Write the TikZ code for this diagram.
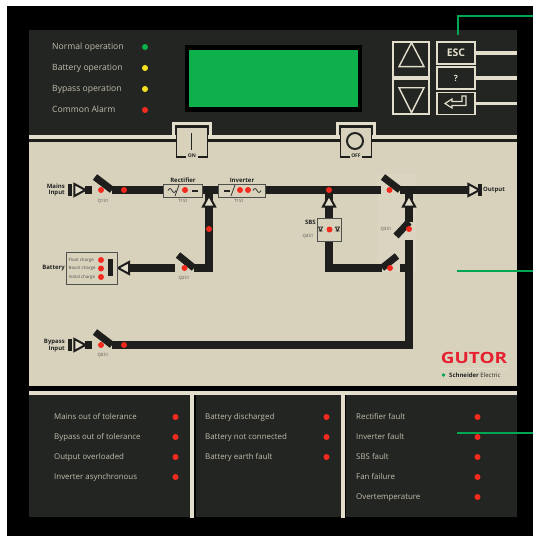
\documentclass[tikz,border=0pt]{standalone}
\usepackage{fontspec}
\setmainfont{Open Sans}
\usetikzlibrary{shapes.geometric, arrows.meta, positioning}
\definecolor{panel}{HTML}{232522}
\definecolor{beige}{HTML}{D8D2BD}
\definecolor{strip}{HTML}{E2DECB}
\definecolor{busdark}{HTML}{1E1F1C}
\definecolor{lcd}{HTML}{0DB04B}
\definecolor{leader}{HTML}{00A651}
\definecolor{lampred}{HTML}{F52A1E}
\definecolor{lampyel}{HTML}{F6E31E}
\definecolor{gutor}{HTML}{E6202F}
\tikzset{
    lamp/.style={circle, fill=#1, inner sep=0pt, minimum size=6pt},
    bus/.style={draw=busdark, line width=7.5pt},
    arm/.style={draw=busdark, line width=7pt},
    lead/.style={draw=leader, line width=1.6pt},
    keybox/.style={draw=strip, line width=1.3pt, fill=panel, inner sep=0pt, text=strip},
    keyline/.style={draw=strip, line width=3.5pt},
    tag/.style={text=strip!85!black, font=\fontsize{7.9}{9}\selectfont, anchor=west, inner sep=0pt,
        text height=6pt, text depth=2pt},
    toptag/.style={tag, font=\fontsize{8.6}{10}\selectfont},
    legend/.style={text=panel, font=\bfseries\fontsize{6}{6.8}\selectfont, inner sep=0pt, align=right},
    smalltag/.style={text=panel!80, font=\fontsize{4.4}{5}\selectfont, inner sep=0pt},
    flow/.style={isosceles triangle, isosceles triangle stretches, draw=busdark, line width=2pt,
        fill=strip, inner sep=0pt, minimum width=12pt, minimum height=11pt},
    plug/.style={fill=busdark, inner sep=0pt, minimum width=4.5pt, minimum height=12pt},
    unit/.style={draw=panel!80, line width=.9pt, fill=beige, inner sep=0pt}
}
\begin{document}
\begin{tikzpicture}[x=1pt, y=-1pt]
    \useasboundingbox (0,0) rectangle (533,536);
    % housing and panels
    \fill[black] (7,6) rectangle (533,536);
    \fill[panel] (29,30) rectangle (517,135);
    \fill[beige] (29,142) rectangle (517,386);
    \fill[strip] (29,135) rectangle (517,139);
    \fill[busdark] (29,139) rectangle (517,142);
    \fill[strip] (29,391) rectangle (517,395);
    \foreach \x/\w in {29/163, 196/146, 346/171} {
        \fill[panel] (\x,395) rectangle ++(\w,122);
    }
    \fill[strip] (190,395) rectangle (194,518);
    \fill[strip] (340.5,395) rectangle (344.5,518);

    % display
    \fill[black] (185,45) rectangle (362,112);
    \node[fill=lcd, minimum width=169pt, minimum height=57pt, inner sep=0pt] (display) at (273.5,78.5) {};

    % status lamps, top
    \foreach \n/\y/\c/\l in {a/47/lcd/Normal operation, b/68/lampyel/Battery operation,
                             c/89/lampyel/Bypass operation, d/110/lampred/Common Alarm} {
        \node[toptag] (top\n) at (52,\y) {\l};
        \node[lamp=\c] (toplamp\n) at (145,\y) {};
    }

    % keys
    \node[keybox, minimum width=36pt, minimum height=35pt] (keyup) at (411,59.5) {};
    \node[keybox, minimum width=36pt, minimum height=35pt] (keydown) at (411,96.5) {};
    \node[isosceles triangle, isosceles triangle stretches, shape border rotate=90, draw=strip, line width=1.4pt,
        inner sep=0pt, minimum width=25pt, minimum height=24pt] (triup) at (411.5,59) {};
    \node[isosceles triangle, isosceles triangle stretches, shape border rotate=270, draw=strip, line width=1.4pt,
        inner sep=0pt, minimum width=25pt, minimum height=25pt] (tridown) at (411.5,95.5) {};
    \coordinate (esce) at (517,53);
    \coordinate (quee) at (517,78);
    \coordinate (ente) at (517,103.5);
    \node[keybox, minimum width=38pt, minimum height=22pt, font=\bfseries\fontsize{10.5}{12}\selectfont] (keyesc) at (456,53) {ESC};
    \node[keybox, minimum width=38pt, minimum height=22pt, font=\bfseries\fontsize{8.5}{10}\selectfont] (keyhelp) at (456,78) {?};
    \node[keybox, minimum width=38pt, minimum height=22pt] (keyenter) at (456,103.5) {};
    \foreach \k/\e in {keyesc/esce, keyhelp/quee, keyenter/ente} {
        \draw[keyline] (\k.east) -- (\e);
    }
    \draw[strip, line width=1.2pt] (445,103.5) -- (452,99) -- (452,101.5) -- (462,101.5) -- (462,96) -- (466,96)
        -- (466,105.5) -- (452,105.5) -- (452,108) -- cycle;

    % on and off switches
    \foreach \x/\n/\l in {192/on/ON, 356/off/OFF} {
        \fill[beige] (\x-16,127) rectangle (\x+16,157);
        \draw[strip, line width=3pt] (\x-18.5,135) -- (\x-18.5,123.5) -- (\x+18.5,123.5) -- (\x+18.5,135);
        \draw[busdark, line width=1.5pt] (\x-6,157) -- (\x-15.5,157) -- (\x-15.5,127) -- (\x+15.5,127)
            -- (\x+15.5,157) -- (\x+6,157);
        \node[legend, font=\bfseries\fontsize{5}{6}\selectfont] (\n) at (\x,156) {\l};
    }
    \draw[panel, line width=1.6pt] (191.5,133) -- (191.5,150);
    \node[circle, draw=panel, line width=2pt, minimum size=16pt, inner sep=0pt] (offring) at (355,141) {};

    % mains, rectifier and inverter
    \coordinate (mainsa) at (85,190);
    \coordinate (mainsb) at (92,190);
    \coordinate (mainsc) at (95,177);
    \coordinate (mainsd) at (112,190);
    \coordinate (dcbus) at (209,190);
    \coordinate (sbstap) at (329,190);
    \coordinate (outa) at (381,190);
    \coordinate (outb) at (400,190);
    \coordinate (outc) at (383,177);
    \coordinate (outd) at (468,190);
    \coordinate (battcorner) at (209,268);
    \coordinate (battarm) at (194,268);
    \coordinate (battarmb) at (178,255);
    \coordinate (battline) at (175,268);
    \coordinate (battend) at (130,268);
    \coordinate (sbscorner) at (329,268);
    \coordinate (sbsarm) at (382,268);
    \coordinate (sbsarmb) at (397,256);
    \coordinate (joint) at (409,268);
    \coordinate (jointb) at (400,268);
    \coordinate (vtop) at (409,240);
    \coordinate (bypcorner) at (409,345);
    \coordinate (bypa) at (85,345);
    \coordinate (bypb) at (92,345);
    \coordinate (bypc) at (95,332);
    \coordinate (bypd) at (112,345);
    \coordinate (uptap) at (409,190);
    \coordinate (upmid) at (409,222);
    \coordinate (upend) at (396,236);

    % faint bypass switch cover
    \fill[strip!20!beige] (377,174) rectangle (416,272);

    \draw[bus] (mainsa) -- (mainsb);
    \draw[arm] (mainsc) -- (mainsd);
    \draw[bus] (mainsd) -- (dcbus) -- (sbstap) -- (outa);
    \draw[arm] (outc) -- (outb);
    \draw[bus] (outb) -- (outd);
    \draw[bus] (dcbus) -- (battcorner) -- (battarm);
    \draw[arm] (battarm) -- (battarmb);
    \draw[bus] (battline) -- (battend);
    \draw[bus] (sbstap) -- (sbscorner) -- (sbsarm);
    \draw[arm] (sbsarm) -- (sbsarmb);
    \draw[bus] (vtop) -- (bypcorner) -- (bypd);
    \draw[bus] (joint) -- (jointb);
    \draw[arm] (bypc) -- (bypd);
    \draw[bus] (bypa) -- (bypb);
    \draw[bus] (uptap) -- (upmid);
    \draw[arm] (upmid) -- (upend);

    % flow arrows
    \foreach \n/\x/\y/\r in {mainsflow/78/190/0, bypflow/78/345/0, battflow/125.5/268/180,
                             outflow/472/190/0, dcflow/209/203/90, sbsflow/329/203/90, upflow/409/203/90} {
        \node[flow, shape border rotate=\r] (\n) at (\x,\y) {};
    }
    \foreach \n/\x/\y in {mainsplug/70/190, bypplug/70/345, outplug/480/190} {
        \node[plug] (\n) at (\x,\y) {};
    }

    % converters
    \node[unit, minimum width=39pt, minimum height=13pt] (rectbox) at (182.5,190.5) {};
    \node[unit, minimum width=47pt, minimum height=13pt] (invbox) at (241.5,190.5) {};
    \draw[panel, line width=.7pt] (175,196) -- (179,185);
    \draw[panel, line width=.7pt] (231,196) -- (235,185);
    \draw[panel, line width=.7pt] (168,190.5) sin (170,188.5) cos (172,190.5) sin (174,192.5) cos (176,190.5);
    \draw[panel, line width=.7pt] (253,190.5) sin (255,188.5) cos (257,190.5) sin (259,192.5) cos (261,190.5);
    \draw[panel, line width=.7pt] (192,190) -- (198,190) (192,191.5) -- (198,191.5);
    \draw[panel, line width=.7pt] (224,190) -- (230,190) (224,191.5) -- (230,191.5);

    % sbs
    \node[unit, minimum width=24pt, minimum height=23pt] (sbsbox) at (329,229.5) {};
    \foreach \x in {320.5, 337.5} {
        \draw[panel, line width=.7pt] (\x-2,227) -- (\x+2,227) -- (\x,231) -- cycle (\x-2,231) -- (\x+2,231);
    }

    % battery
    \node[unit, minimum width=51pt, minimum height=32pt] (battbox) at (91.5,268) {};
    \node[fill=busdark, inner sep=0pt, minimum width=5pt, minimum height=17pt] (cell) at (110,267) {};
    \foreach \n/\y/\l in {fl/260/Float charge, bo/268.5/Boost charge, in/277/Initial charge} {
        \node[smalltag, anchor=west] (\n) at (68.5,\y) {\l};
        \node[lamp=lampred] (lamp\n) at (101,\y) {};
    }

    % lamps on the lines
    \foreach \n/\x/\y in {qa/101/190, qb/124/190, qc/185/190, qd/240/190, qe/248/190, qf/209/229,
                          qg/184.5/268, qh/329/190, qi/329.5/229.5, qj/389.5/190, qk/409/229,
                          qm/390/268, qn/101/345, qo/124/345} {
        \node[lamp=lampred] (\n) at (\x,\y) {};
    }

    % captions
    \node[legend, anchor=east] (mainscap) at (65,190) {Mains\\Input};
    \node[legend, anchor=east] (bypcap) at (65,345.5) {Bypass\\Input};
    \node[legend, anchor=east] (battcap) at (65,268.5) {Battery};
    \node[legend, anchor=west] (outcap) at (483,190) {Output};
    \node[legend, anchor=east] (sbscap) at (316,222) {SBS};
    \node[legend] (rectcap) at (183,180) {Rectifier};
    \node[legend] (invcap) at (242,180) {Inverter};
    \foreach \n/\x/\y/\l in {qaa/103/201/Q1S1, qbb/183/200.5/T1S1, qcc/239/200.5/T1S1, qdd/184/278/Q2S1,
                             qee/308/236/Q4S1, qff/386/229/Q3S1, qgg/103/355/Q5S1} {
        \node[smalltag] (\n) at (\x,\y) {\l};
    }

    % logo
    \node[text=gutor, font=\bfseries\fontsize{15.5}{16}\selectfont, inner sep=0pt] (logo) at (474,358) {\scalebox{1.22}[1]{GUTOR}};
    \draw[strip!70!beige, line width=.5pt] (441,368) -- (507,368);
    \node[font=\fontsize{6}{6}\selectfont, inner sep=0pt, text=panel, anchor=west] (brand) at (449,375) {\textbf{Schneider} Electric};
    \fill[leader] (443.5,375) circle (1.8pt);

    % fault lists
    \foreach \n/\x/\y/\l in {ma/54/417/Mains out of tolerance, mb/54/437/Bypass out of tolerance,
                             mc/54/457/Output overloaded, md/54/477/Inverter asynchronous,
                             ba/205/417/Battery discharged, bb/205/437/Battery not connected,
                             bc/205/457/Battery earth fault,
                             ra/356/417/Rectifier fault, rb/356/437/Inverter fault, rc/356/457/SBS fault,
                             rd/356/477/Fan failure, re/356/497/Overtemperature} {
        \node[tag] (\n) at (\x,\y) {\l};
        \node[lamp=lampred] (lamp\n) at (\x+121.5,\y) {};
    }

    % leader lines
    \coordinate (leada) at (458,35);
    \coordinate (leadb) at (458,16);
    \coordinate (leadc) at (533,16);
    \coordinate (leadd) at (457,271);
    \coordinate (leade) at (533,271);
    \coordinate (leadf) at (457,433);
    \coordinate (leadg) at (533,433);
    \draw[lead] (leada) -- (leadb) -- (leadc);
    \draw[lead] (leadd) -- (leade);
    \draw[lead] (leadf) -- (leadg);
\end{tikzpicture}
\end{document}
